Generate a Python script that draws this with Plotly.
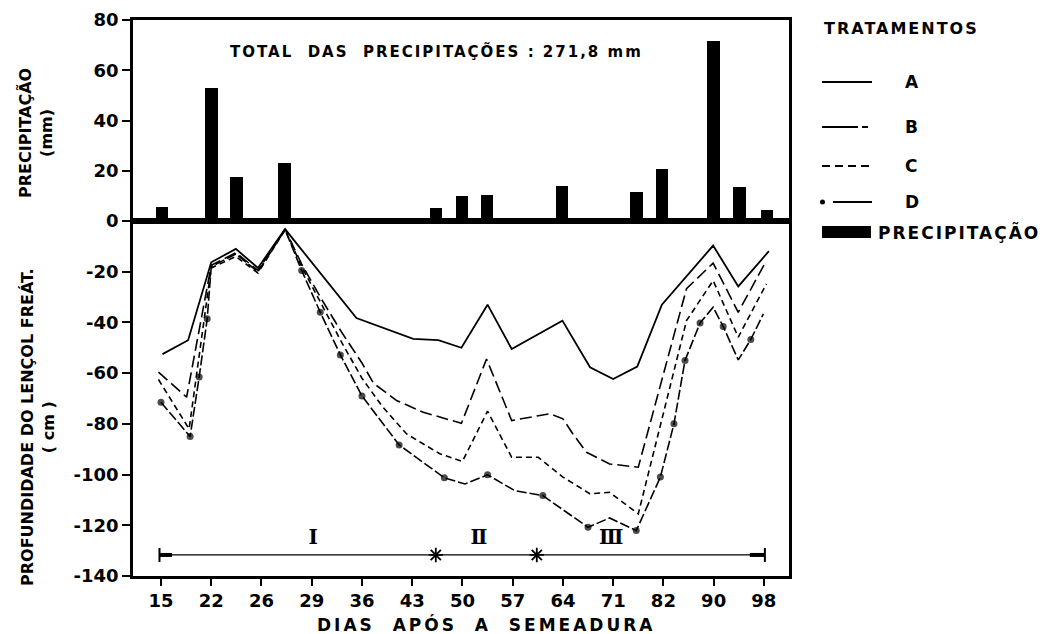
import plotly.graph_objects as go

# ---------------- data ----------------
day_labels = ["15", "22", "26", "29", "36", "43", "50", "57", "64", "71", "82", "90", "98"]

# precipitation bars (position on the evenly spaced day axis, mm)
rain_x = [0.02, 1.0, 1.5, 2.46, 5.47, 5.99, 6.49, 7.98, 9.47, 9.97, 11.0, 11.52, 12.06]
rain_mm = [5.5, 53, 17.5, 23, 5, 10, 10.5, 14, 11.5, 20.5, 71.5, 13.5, 4.5]

# water-table depth (cm) per treatment
a_x = [0.03, 0.54, 1.0, 1.49, 1.93, 2.47, 3.89, 5.02, 5.52, 5.98, 6.5, 6.98, 7.99, 8.54, 9.0, 9.48, 9.97, 10.99, 11.49, 12.1]
a_y = [-52.5, -47, -16.3, -11, -18.5, -3.2, -38.3, -46.5, -47, -50, -33, -50.5, -39.3, -57.7, -62.3, -57.4, -33, -9.7, -25.8, -11.9]

b_x = [-0.05, 0.51, 1.0, 1.49, 1.93, 2.47, 2.8, 3.2, 3.6, 4.0, 4.23, 4.69, 5.22, 5.98, 6.48, 6.98, 7.54, 7.74, 8.0, 8.2, 8.47, 8.93, 9.5, 10.46, 10.99, 11.49, 12.05]
b_y = [-59.6, -69.5, -17.5, -12.5, -19.5, -3.2, -17, -31, -44, -56, -64, -70.8, -75.4, -79.8, -54.4, -78.7, -76.7, -76, -78, -84, -91.2, -95.8, -97.1, -26.7, -16.6, -36, -15.6]

c_x = [-0.05, 0.56, 1.0, 1.49, 1.93, 2.47, 2.8, 3.2, 3.6, 4.0, 4.4, 4.89, 5.55, 6.0, 6.5, 6.98, 7.51, 8.0, 8.54, 8.93, 9.5, 10.46, 10.99, 11.49, 12.05]
c_y = [-62.5, -82, -18.5, -14, -20.5, -3.5, -18, -33, -48, -62, -73, -84, -91.8, -94.8, -75, -93.2, -93.2, -101, -107.6, -107, -115.5, -39.3, -23.5, -45.8, -24.8]

d_x = [0.0, 0.58, 0.76, 0.92, 1.0, 1.49, 1.93, 2.47, 2.8, 3.17, 3.57, 4.0, 4.74, 5.64, 6.05, 6.5, 7.04, 7.6, 8.5, 8.93, 9.46, 9.94, 10.21, 10.43, 10.73, 10.99, 11.19, 11.49, 11.74, 11.99]
d_y = [-71.5, -85, -61.5, -38.6, -18, -13, -20, -3.5, -19.5, -36, -52.8, -69, -88.3, -101.3, -103.7, -100.1, -106.3, -108.3, -120.8, -117.1, -122.1, -101, -80, -55, -40.2, -34, -41.6, -54.8, -46.7, -36.6]
d_marked = [1, 1, 1, 1, 0, 0, 0, 0, 1, 1, 1, 1, 1, 1, 0, 1, 0, 1, 1, 0, 1, 1, 1, 1, 1, 0, 1, 0, 1, 0]

# growth phases drawn under the curves
phase_x = [-0.03, 12.02]
phase_y = -131.7
star_x = [5.47, 7.48]
phase_labels = ["Ⅰ", "Ⅱ", "Ⅲ"]
phase_label_x = [3.03, 6.33, 8.96]
phase_label_y = -125.4

legend_names = ["A", "B", "C", "D"]

# ---------------- figure ----------------
FONT = "DejaVu Sans"
BLACK = "black"

def sp(text, ls=2):
    return f'<span style="letter-spacing:{ls}px">{text}</span>'

fig = go.Figure()

fig.add_trace(go.Bar(x=rain_x, y=rain_mm, width=0.25, marker=dict(color=BLACK, line=dict(width=0)),
                     xaxis="x2", yaxis="y2", showlegend=False))

fig.add_trace(go.Scatter(x=a_x, y=a_y, mode="lines", line=dict(color=BLACK, width=1.8), showlegend=False))
fig.add_trace(go.Scatter(x=b_x, y=b_y, mode="lines", line=dict(color=BLACK, width=1.6, dash="12px,5px"), showlegend=False))
fig.add_trace(go.Scatter(x=c_x, y=c_y, mode="lines", line=dict(color=BLACK, width=1.6, dash="6px,4px"), showlegend=False))
fig.add_trace(go.Scatter(x=d_x, y=d_y, mode="lines+markers", line=dict(color=BLACK, width=1.6, dash="10px,3px"),
                         marker=dict(color=BLACK, size=[7 if m else 0 for m in d_marked],
                                     line=dict(width=0)), showlegend=False))

# phase line
fig.add_trace(go.Scatter(x=phase_x, y=[phase_y] * len(phase_x), mode="lines+markers",
                         line=dict(color=BLACK, width=1.2),
                         marker=dict(symbol="line-ns", size=10, line=dict(color=BLACK, width=2)),
                         showlegend=False))
for xe, xi in [(phase_x[0], phase_x[0] + 0.25), (phase_x[1] - 0.3, phase_x[1])]:
    fig.add_trace(go.Scatter(x=[xe, xi], y=[phase_y, phase_y], mode="lines",
                             line=dict(color=BLACK, width=4), showlegend=False))
fig.add_trace(go.Scatter(x=star_x, y=[phase_y] * len(star_x), mode="markers",
                         marker=dict(symbol="asterisk", size=12, line=dict(color=BLACK, width=1.8)),
                         showlegend=False))
fig.add_trace(go.Scatter(x=phase_label_x, y=[phase_label_y] * len(phase_label_x), mode="text",
                         text=phase_labels, textfont=dict(family="DejaVu Serif", size=20, color=BLACK, weight="bold"),
                         showlegend=False))

tickfont = dict(family=FONT, size=18, color=BLACK, weight="bold")
axis_common = dict(showline=True, linewidth=2.5, linecolor=BLACK, mirror=True, showgrid=False,
                   zeroline=False, automargin=False)

bottom_top = 0.6385
fig.update_layout(
    width=1050, height=626,
    margin=dict(l=125, r=269, t=12, b=58, autoexpand=False),
    plot_bgcolor="white", paper_bgcolor="white",
    font=dict(family=FONT, color=BLACK),
    bargap=0,
    xaxis=dict(domain=[0, 1], anchor="y", range=[-0.557, 12.5],
               tickmode="array", tickvals=list(range(len(day_labels))), ticktext=day_labels,
               ticks="outside", ticklen=7, tickwidth=2, tickcolor=BLACK, tickfont=tickfont, **axis_common),
    yaxis=dict(domain=[0, bottom_top], range=[-140, 0], tickmode="array",
               tickvals=[-140, -120, -100, -80, -60, -40, -20],
               ticktext=["-140", "-120", "-100", "-80", "-60", "-40", "-20"],
               ticks="outside", ticklen=8, tickwidth=2, tickcolor=BLACK, tickfont=tickfont, **axis_common),
    xaxis2=dict(domain=[0, 1], anchor="y2", matches="x", showticklabels=False, ticks="", **axis_common),
    yaxis2=dict(domain=[bottom_top, 1], range=[0, 80], tickmode="array",
                tickvals=[0, 20, 40, 60, 80], ticktext=["0", "20", "40", "60", "80"],
                ticks="outside", ticklen=8, tickwidth=2, tickcolor=BLACK, tickfont=tickfont, **axis_common),
)

# paper coordinates from screen pixels of the reference (plot area 133..789 x 20..576)
def px2x(px):
    return (px - 133) / 656.0

def py2y(py):
    return (576 - py) / 556.0

def note(text, px, py, size, xanchor="center", angle=0):
    return dict(text=text, x=px2x(px), y=py2y(py), xref="paper", yref="paper", showarrow=False,
                xanchor=xanchor, yanchor="middle", textangle=angle,
                font=dict(family=FONT, size=size, color=BLACK))

ann = []
ann.append(note(sp("<b>TOTAL\u00a0\u00a0DAS\u00a0\u00a0PRECIPITAÇÕES : 271,8 mm</b>", 2), 436, 52, 15))
ann.append(note(sp("<b>DIAS\u00a0 APÓS\u00a0 A\u00a0 SEMEADURA</b>", 3), 486, 624, 17))
ann.append(note("<b>PRECIPITAÇÃO<br>(mm)</b>", 36, 133, 16, angle=-90))
ann.append(note("<b>PROFUNDIDADE DO LENÇOL FREÁT.<br>( cm )</b>", 38, 427, 16, angle=-90))

# custom legend
ann.append(note(sp("<b>TRATAMENTOS</b>", 2), 822, 28, 16, xanchor="left"))
rows = [82, 127, 166, 202]
dashes = ["solid", "36px,4px,6px,30px", "8px,5px", "solid"]
shapes = []
for name, py, dash in zip(legend_names, rows, dashes):
    x0 = 833 if name == "D" else 822
    shapes.append(dict(type="line", xref="paper", yref="paper", x0=px2x(x0), x1=px2x(872),
                       y0=py2y(py), y1=py2y(py), line=dict(color=BLACK, width=2, dash=dash)))
    ann.append(note(f"<b>{name}</b>", 903, py, 17, xanchor="left"))
shapes.append(dict(type="circle", xref="paper", yref="paper", x0=px2x(820), x1=px2x(825),
                   y0=py2y(204.5), y1=py2y(199.5), fillcolor=BLACK, line=dict(width=0)))
shapes.append(dict(type="rect", xref="paper", yref="paper", x0=px2x(822), x1=px2x(871),
                   y0=py2y(238), y1=py2y(226), fillcolor=BLACK, line=dict(width=0)))
ann.append(note(sp("<b>PRECIPITAÇÃO</b>", 2), 876, 232, 17, xanchor="left"))

fig.update_layout(annotations=ann, shapes=shapes)

fig.write_html("out.html")
